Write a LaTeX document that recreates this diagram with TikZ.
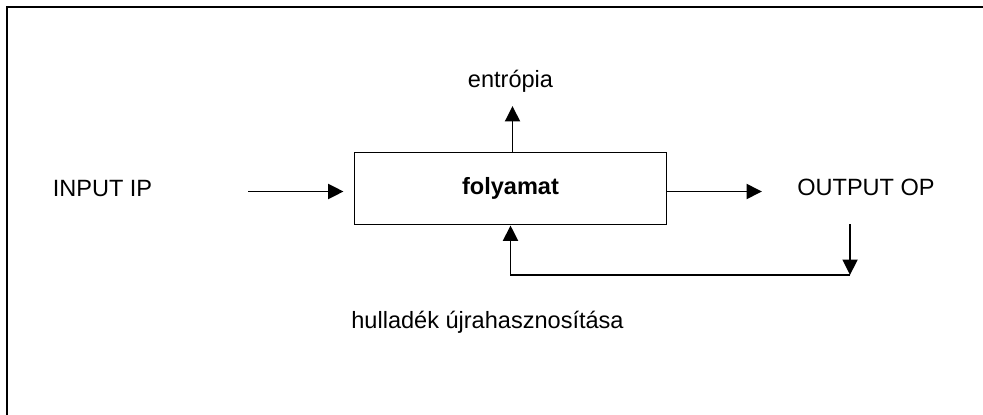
\documentclass[tikz,border=0pt]{standalone}
\usepackage{fontspec}
\setmainfont{Liberation Sans}
\usepackage{tikz}
\usetikzlibrary{calc, arrows.meta, positioning}

\tikzset{
    lbl/.style={font=\fontsize{13.4}{16}\selectfont, inner sep=0pt, anchor=base},
    flow/.style={line width=1.1pt, -{Triangle[length=0.31cm, width=0.3cm]}},
}

\begin{document}
\begin{tikzpicture}
            \useasboundingbox (0, 0) rectangle (19.66, 8.28);
            \clip (0, 0) rectangle (19.66, 8.28);
            \draw[line width=1.3pt] (0.146, -1) rectangle (21, 8.14);
            \node[draw, line width=1.1pt, minimum width=6.24cm, minimum height=1.44cm, inner sep=0pt, font=\fontsize{13.4}{16}\selectfont\bfseries] (proc) at (10.21, 4.51) {folyamat};
            \node[lbl] (inp) at (2.05, 4.36) {INPUT IP};
            \node[lbl] (out) at (17.32, 4.37) {OUTPUT OP};
            \node[lbl] (ent) at ($(proc.north) + (0, 1.29)$) {entrópia};
            \node[lbl] (waste) at (9.75, 1.72) {hulladék újrahasznosítása};
            \coordinate (inA) at (4.96, 4.45);
            \coordinate (outA) at (15.24, 4.45);
            \coordinate (entA) at (10.25, 6.16);
            \coordinate (fbTop) at (17.0, 3.8);
            \coordinate (fbTurn) at (17.0, 2.78);
            \draw[flow, shorten >=0.2cm] (inA) -- (proc.west |- inA);
            \draw[flow] (proc.east |- outA) -- (outA);
            \draw[flow] (proc.north -| entA) -- (entA);
            \draw[flow] (fbTop) -- (fbTurn);
            \draw[flow] (fbTurn) -| (proc.south);
        \end{tikzpicture}
\end{document}
